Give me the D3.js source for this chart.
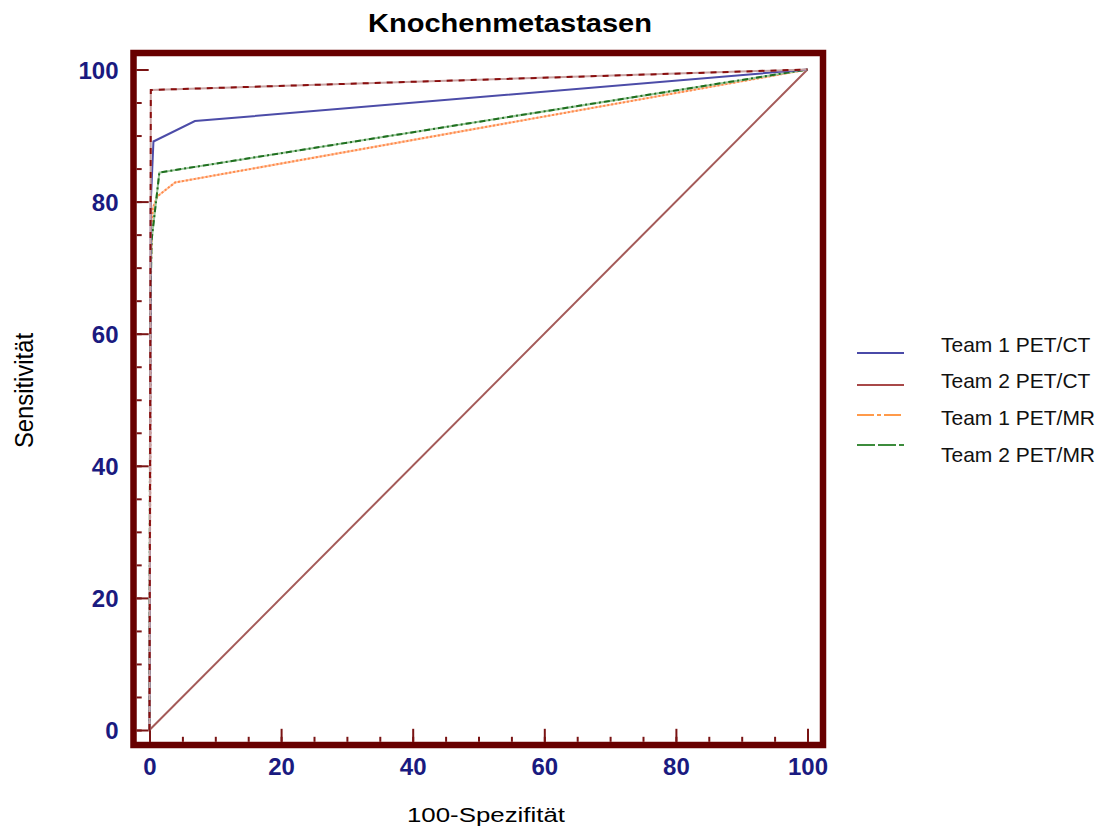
<!DOCTYPE html>
<html>
<head>
<meta charset="utf-8">
<script src="https://cdn.jsdelivr.net/npm/d3@7"></script>
<style>
  html, body { margin: 0; padding: 0; background: #fff; }
  svg { display: block; font-family: "Liberation Sans", Arial, sans-serif; }
</style>
</head>
<body>
<svg id="chart" width="1103" height="831"></svg>
<script>
// ---- Data ----
const chartTitle = "Knochenmetastasen";
const xTitle = "100-Spezifität";
const yTitle = "Sensitivität";
const majorTicks = [0, 20, 40, 60, 80, 100];
const minorTicks = d3.range(0, 101, 5);

const seriesNames = ["Team 1 PET/CT", "Team 2 PET/CT", "Team 1 PET/MR", "Team 2 PET/MR"];
// 100-Specificity (x) and Sensitivity (y) for each ROC curve
const team1CT_x = [0, 0.2, 0.6, 6.9, 100];
const team1CT_y = [0, 80, 89.1, 92.2, 100];
const team2CT_x = [0, 0.2, 100];
const team2CT_y = [0, 96.9, 100];
const team1MR_x = [0, 0.2, 0.5, 1.2, 3.9, 100];
const team1MR_y = [0, 70, 79, 80.8, 82.9, 100];
const team2MR_x = [0, 0.1, 0.3, 1.5, 100];
const team2MR_y = [0, 60, 74, 84.4, 100];
const diagonal_x = [0, 100];
const diagonal_y = [0, 100];

// ---- Setup ----
const svg = d3.select("#chart");
const x = d3.scaleLinear().domain([0, 100]).range([149.5, 807.5]);
const y = d3.scaleLinear().domain([0, 100]).range([730, 69.5]);
const frameColor = "#680000";
const tickColor = "#7a1414";
const labelColor = "#1a1a80";

const frame = { left: 133.5, top: 53, right: 823, bottom: 745 };

svg.append("rect")
  .attr("x", frame.left).attr("y", frame.top)
  .attr("width", frame.right - frame.left)
  .attr("height", frame.bottom - frame.top)
  .attr("fill", "#fff");

// ---- Ticks (inward) ----
function styleAxis(g) {
  g.select(".domain").remove();
  g.selectAll(".tick line").attr("stroke", tickColor).attr("stroke-width", 2);
}
const innerBottom = frame.bottom - 3.2;
const innerLeft = frame.left + 3.2;

svg.append("g").attr("transform", `translate(0,${innerBottom})`)
  .call(d3.axisTop(x).tickValues(minorTicks).tickSize(5).tickFormat(""))
  .call(styleAxis);
svg.append("g").attr("transform", `translate(0,${innerBottom})`)
  .call(d3.axisTop(x).tickValues(majorTicks).tickSize(13).tickFormat(""))
  .call(styleAxis);
svg.append("g").attr("transform", `translate(${innerLeft},0)`)
  .call(d3.axisRight(y).tickValues(minorTicks).tickSize(5).tickFormat(""))
  .call(styleAxis);
svg.append("g").attr("transform", `translate(${innerLeft},0)`)
  .call(d3.axisRight(y).tickValues(majorTicks).tickSize(12).tickFormat(""))
  .call(styleAxis);

// ---- Tick labels ----
const xl = svg.append("g").attr("transform", `translate(0,${frame.bottom + 3})`)
  .call(d3.axisBottom(x).tickValues(majorTicks).tickSize(0).tickPadding(10).tickFormat(d3.format("d")));
xl.select(".domain").remove();
xl.selectAll("text").attr("fill", labelColor).attr("font-size", 24).attr("font-weight", "bold")
  .attr("font-family", "Liberation Sans, Arial, sans-serif");

const yl = svg.append("g").attr("transform", `translate(${frame.left - 3},0)`)
  .call(d3.axisLeft(y).tickValues(majorTicks).tickSize(0).tickPadding(12).tickFormat(d3.format("d")));
yl.select(".domain").remove();
yl.selectAll("text").attr("fill", labelColor).attr("font-size", 24).attr("font-weight", "bold")
  .attr("font-family", "Liberation Sans, Arial, sans-serif").attr("dy", "0.36em");

// ---- Curves ----
const line = d3.line().x(d => x(d[0])).y(d => y(d[1]));
const zipPts = (xs, ys) => xs.map((v, i) => [v, ys[i]]);

svg.append("path").datum(zipPts(diagonal_x, diagonal_y)).attr("d", line)
  .attr("fill", "none").attr("stroke", "#a45a58").attr("stroke-width", 2);

// Team 1 PET/MR - orange dotted
svg.append("path").datum(zipPts(team1MR_x, team1MR_y)).attr("d", line)
  .attr("fill", "none").attr("stroke", "#ffc8a8").attr("stroke-width", 2);
svg.append("path").datum(zipPts(team1MR_x, team1MR_y)).attr("d", line)
  .attr("fill", "none").attr("stroke", "#ff8a4a").attr("stroke-width", 2)
  .attr("stroke-dasharray", "2,2");

// Team 2 PET/MR - green dash-dot
svg.append("path").datum(zipPts(team2MR_x, team2MR_y)).attr("d", line)
  .attr("fill", "none").attr("stroke", "#9cc89c").attr("stroke-width", 2);
svg.append("path").datum(zipPts(team2MR_x, team2MR_y)).attr("d", line)
  .attr("fill", "none").attr("stroke", "#1f6f1f").attr("stroke-width", 2)
  .attr("stroke-dasharray", "6,3,2,3");

// Team 1 PET/CT - blue solid
svg.append("path").datum(zipPts(team1CT_x, team1CT_y)).attr("d", line)
  .attr("fill", "none").attr("stroke", "#4c4ca8").attr("stroke-width", 2);

// Team 2 PET/CT - dark red dashed over light pink
svg.append("path").datum(zipPts(team2CT_x, team2CT_y)).attr("d", line)
  .attr("fill", "none").attr("stroke", "#c8a2a2").attr("stroke-width", 2);
svg.append("path").datum(zipPts(team2CT_x, team2CT_y)).attr("d", line)
  .attr("fill", "none").attr("stroke", "#8a0e0e").attr("stroke-width", 2)
  .attr("stroke-dasharray", "6,6");

// ---- Frame ----
svg.append("rect")
  .attr("x", frame.left).attr("y", frame.top)
  .attr("width", frame.right - frame.left)
  .attr("height", frame.bottom - frame.top)
  .attr("fill", "none").attr("stroke", frameColor).attr("stroke-width", 6.5);

// ---- Titles ----
svg.append("text").attr("x", 510).attr("y", 32).attr("text-anchor", "middle")
  .attr("font-size", 26).attr("font-weight", "bold").attr("fill", "#000")
  .attr("textLength", 284).attr("lengthAdjust", "spacingAndGlyphs")
  .text(chartTitle);

svg.append("text").attr("x", 486).attr("y", 822).attr("text-anchor", "middle")
  .attr("font-size", 20).attr("fill", "#000")
  .attr("textLength", 158).attr("lengthAdjust", "spacingAndGlyphs")
  .text(xTitle);

svg.append("text").attr("transform", "translate(33,390.5) scale(1.1,1) rotate(-90)")
  .attr("text-anchor", "middle").attr("font-size", 24).attr("fill", "#000")
  .attr("textLength", 115).attr("lengthAdjust", "spacingAndGlyphs")
  .text(yTitle);

// ---- Legend ----
const legendColors = ["#4a4aa8", "#a84848", "#ff9a4a", "#3c8c3c"];
const legendDash = [null, null, "17,3,4,3", "18,3"];
const legendLineY = [353, 385, 415, 445];
const legendTextY = [352, 388, 425, 461.5];
const lg = svg.append("g");
seriesNames.forEach((name, i) => {
  lg.append("line").attr("x1", 857).attr("x2", 904)
    .attr("y1", legendLineY[i]).attr("y2", legendLineY[i])
    .attr("stroke", legendColors[i]).attr("stroke-width", 2)
    .attr("stroke-dasharray", legendDash[i]);
  lg.append("text").attr("x", 941).attr("y", legendTextY[i])
    .attr("font-size", 21).attr("fill", "#111").text(name);
});
</script>
</body>
</html>
